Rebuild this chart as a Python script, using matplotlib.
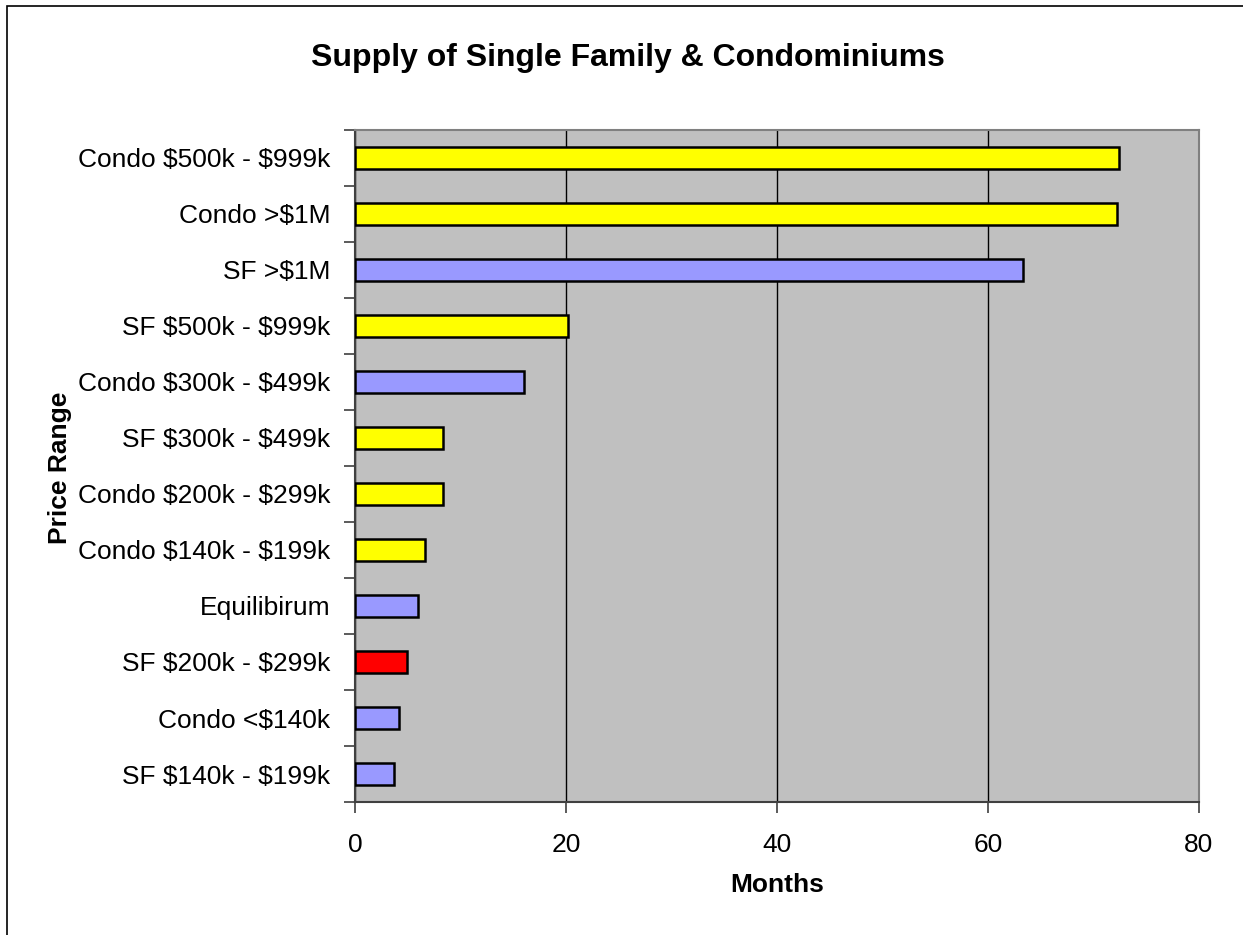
import matplotlib.pyplot as plt
from matplotlib.patches import Rectangle
import numpy as np

plt.rcParams['font.family'] = ['Liberation Sans', 'DejaVu Sans']
plt.rcParams['text.parse_math'] = False

# categories listed bottom to top
labels = ['SF $140k - $199k', 'Condo <$140k', 'SF $200k - $299k', 'Equilibirum',
          'Condo $140k - $199k', 'Condo $200k - $299k', 'SF $300k - $499k',
          'Condo $300k - $499k', 'SF $500k - $999k', 'SF >$1M', 'Condo >$1M',
          'Condo $500k - $999k']
months = [3.7, 4.2, 4.9, 6.0, 6.6, 8.3, 8.3, 16.05, 20.15, 63.3, 72.2, 72.4]
colors = ['#9999FF', '#9999FF', '#FF0000', '#9999FF', '#FFFF00', '#FFFF00', '#FFFF00',
          '#9999FF', '#FFFF00', '#9999FF', '#FFFF00', '#FFFF00']
xticks = [0, 20, 40, 60, 80]

fig = plt.figure(figsize=(12.43, 9.35), dpi=100)
ax = fig.add_axes([0.2856, 0.1422, 0.679, 0.719])
ax.set_facecolor('#C0C0C0')

y = np.arange(len(labels))
ax.barh(y, months, height=0.4, color=colors, edgecolor='black', linewidth=1.8, zorder=3)

ax.set_xlim(0, 80)
ax.set_ylim(-0.5, len(labels) - 0.5)
ax.set_xticks(xticks)
ax.set_xticklabels([str(t) for t in xticks], fontsize=19)
ax.set_yticks(y)
ax.set_yticklabels(labels, fontsize=19)
ax.set_yticks(np.arange(-0.5, len(labels), 1), minor=True)
ax.tick_params(axis='y', which='major', length=0, pad=18)
ax.tick_params(axis='y', which='minor', length=8, width=1.2, color='#404040')
ax.tick_params(axis='x', length=8, width=1.2, color='#404040', pad=14)
ax.grid(axis='x', color='black', linewidth=1, zorder=1)

for s in ['top', 'right']:
    ax.spines[s].set_color('#808080')
    ax.spines[s].set_linewidth(1.5)
for s in ['left', 'bottom']:
    ax.spines[s].set_color('#404040')
    ax.spines[s].set_linewidth(1.5)

ax.set_xlabel('Months', fontsize=19, fontweight='bold', labelpad=12)
fig.text(0.048, 0.5, 'Price Range', rotation=90, fontsize=19, fontweight='bold',
         ha='center', va='center')
fig.text(0.505, 0.938, 'Supply of Single Family & Condominiums', fontsize=23,
         fontweight='bold', ha='center', va='center')

fig.patches.append(Rectangle((7 / 1243, -0.1), 1.2, 1.1 - 6 / 935, transform=fig.transFigure,
                             fill=False, edgecolor='black', linewidth=1.2))

fig.savefig('out.png', dpi=100)
